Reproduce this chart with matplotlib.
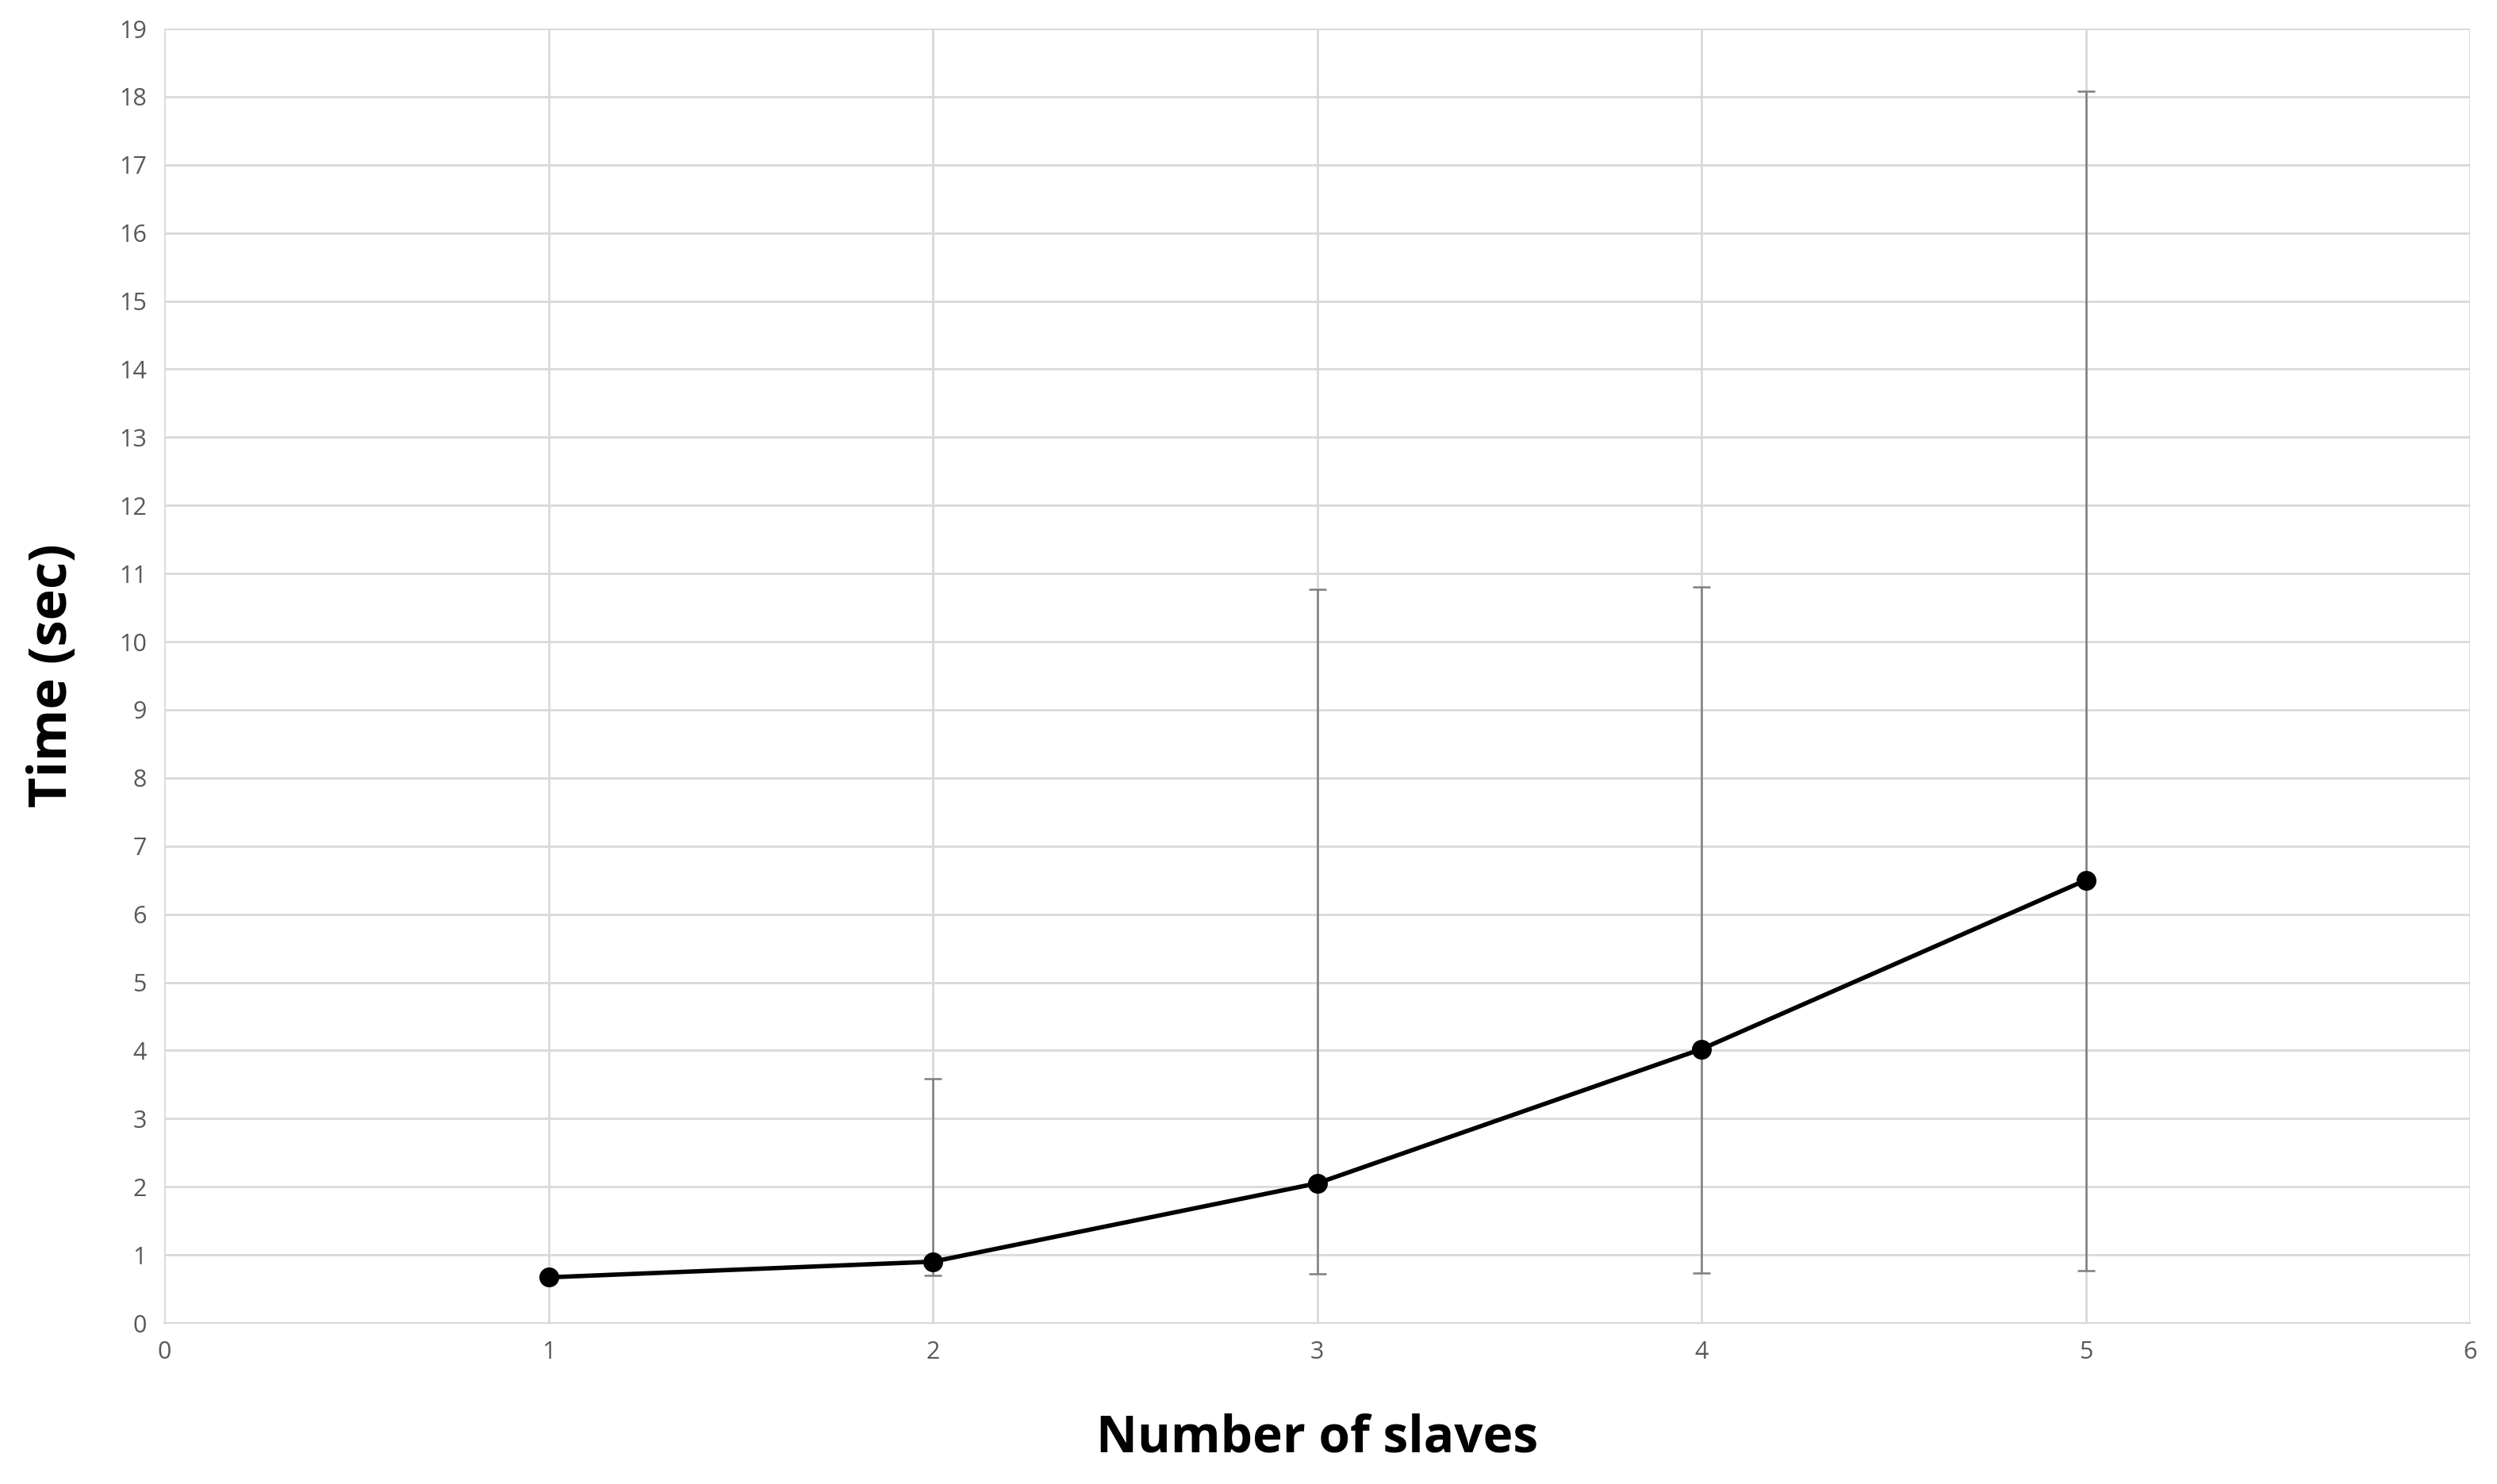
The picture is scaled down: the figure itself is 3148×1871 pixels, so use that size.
import numpy as np
import matplotlib.pyplot as plt

# values
slaves = [1, 2, 3, 4, 5]
mean_time = [0.67, 0.90, 2.05, 4.02, 6.50]
err_low = [0.67, 0.70, 0.72, 0.73, 0.77]
err_high = [0.67, 3.58, 10.77, 10.80, 18.08]

plt.rcParams['font.family'] = ['Open Sans', 'DejaVu Sans']

fig = plt.figure(figsize=(15.74, 9.355), dpi=200)
ax = fig.add_axes([207/3148, 1 - 1668/1871, (3114-207)/3148, (1668-36)/1871])

lower = np.array(mean_time) - np.array(err_low)
upper = np.array(err_high) - np.array(mean_time)
ax.errorbar(slaves, mean_time, yerr=[lower, upper], fmt='none',
            ecolor='#7f7f7f', elinewidth=0.9, capsize=4, capthick=0.9, zorder=2)
ax.plot(slaves, mean_time, color='black', lw=2, marker='o', ms=8, zorder=3)

ax.set_xlim(0, 6)
ax.set_ylim(0, 19)
ax.set_xticks(range(0, 7))
ax.set_yticks(range(0, 20))
ax.grid(True, color='#d9d9d9', lw=1)
ax.set_axisbelow(True)
for s in ['top', 'right', 'left']:
    ax.spines[s].set_visible(False)
ax.spines['bottom'].set_color('#d9d9d9')
ax.tick_params(length=0, labelsize=11, colors='#595959', pad=8)

ax.set_xlabel("Number of slaves", fontsize=23, fontweight='bold', labelpad=22)
ax.set_ylabel("Time (sec)", fontsize=24, fontweight='bold', labelpad=18)

fig.savefig("out.png")
